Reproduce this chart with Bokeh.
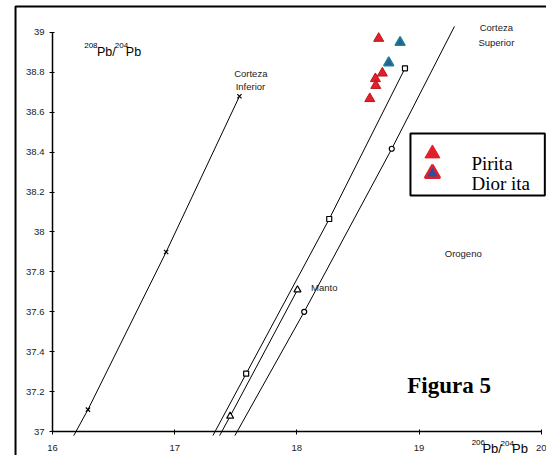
from bokeh.plotting import figure
from bokeh.models import FixedTicker, BoxAnnotation
from bokeh.core.properties import value
from bokeh.embed import file_html
from bokeh.resources import INLINE

# ---- data (206Pb/204Pb vs 208Pb/204Pb) ----
inf_line_x = [16.174, 16.29, 16.93, 17.53]
inf_line_y = [36.98, 37.11, 37.90, 38.68]
inf_pts_x = [16.29, 16.93, 17.53]
inf_pts_y = [37.11, 37.90, 38.68]

oro_line_x = [17.313, 17.585, 18.265, 18.885]
oro_line_y = [36.98, 37.29, 38.065, 38.82]
oro_pts_x = [17.585, 18.265, 18.885]
oro_pts_y = [37.29, 38.065, 38.82]

man_line_x = [17.368, 17.454, 18.005]
man_line_y = [36.98, 37.077, 37.71]
man_pts_x = [17.454, 18.005]
man_pts_y = [37.077, 37.71]

sup_line_x = [17.493, 18.06, 18.777, 19.29]
sup_line_y = [36.98, 37.60, 38.417, 39.03]
sup_pts_x = [18.06, 18.777]
sup_pts_y = [37.60, 38.417]

pirita_x = [18.67, 18.70, 18.643, 18.646, 18.597]
pirita_y = [38.97, 38.796, 38.768, 38.734, 38.668]

diorita_x = [18.845, 18.752]
diorita_y = [38.95, 38.848]

x_ticks = [16, 17, 18, 19, 20]
y_ticks = [37, 37.2, 37.4, 37.6, 37.8, 38, 38.2, 38.4, 38.6, 38.8, 39]

curve_names = ["Corteza", "Inferior", "Corteza", "Superior", "Orogeno", "Manto"]
legend_names = ["Pirita", "Dior ita"]

SANS = "Liberation Sans"
SERIF = "Liberation Serif"
RED = "#E3202A"
BLUE = "#2D5B9B"

p = figure(width=546, height=455, output_backend="svg", toolbar_location=None,
           x_range=(15.574, 20.0436), y_range=(36.88, 39.16),
           min_border=0, min_border_left=0, min_border_bottom=0,
           min_border_top=0, min_border_right=0)
p.outline_line_color = None
p.grid.visible = False

p.xaxis.fixed_location = y_ticks[0]
p.yaxis.fixed_location = x_ticks[0]
p.xaxis.bounds = (x_ticks[0], x_ticks[-1])
p.yaxis.bounds = (y_ticks[0], y_ticks[-1])
for ax in (p.xaxis[0], p.yaxis[0]):
    ax.axis_line_color = "black"
    ax.axis_line_width = 1.5
    ax.major_tick_in = 2
    ax.major_tick_out = 3
    ax.major_tick_line_color = "black"
    ax.minor_tick_line_color = None
    ax.major_label_text_font = SANS
    ax.major_label_text_font_size = "9.5px"
    ax.major_label_text_color = "#222222"
p.xaxis.ticker = FixedTicker(ticks=x_ticks)
p.yaxis.ticker = FixedTicker(ticks=y_ticks)
p.xaxis.major_label_standoff = 10
p.yaxis.major_label_standoff = 5

# outer frame of the figure (open to the right and bottom)
p.add_layout(BoxAnnotation(left=15.697, top=39.13, right=25, bottom=30,
                           fill_color=None, line_color="black", line_alpha=1,
                           line_width=2, level="underlay"))

for lx, ly in ((inf_line_x, inf_line_y), (oro_line_x, oro_line_y),
               (man_line_x, man_line_y), (sup_line_x, sup_line_y)):
    p.line(lx, ly, line_color="black", line_width=1)

p.scatter(inf_pts_x, inf_pts_y, marker="x", size=6, line_color="black", line_width=1.2)
p.scatter(oro_pts_x, oro_pts_y, marker="square", size=5, fill_color="white",
          line_color="black", line_width=1.2)
p.scatter(man_pts_x, man_pts_y, marker="triangle", size=7, fill_color="white",
          line_color="black", line_width=1.2)
p.scatter(sup_pts_x, sup_pts_y, marker="circle", size=5, fill_color="white",
          line_color="black", line_width=1.2)

p.scatter(pirita_x, pirita_y, marker="triangle", size=10,
          fill_color=RED, line_color="#B5141C", line_width=1)
p.scatter(diorita_x, diorita_y, marker="triangle", size=10,
          fill_color=BLUE, line_color="#17868C", line_width=1.5)

# legend (box, swatches, names)
p.add_layout(BoxAnnotation(left=18.930, right=20.030, top=38.494, bottom=38.183,
                           fill_color="white", fill_alpha=1, line_color="black",
                           line_alpha=1, line_width=2, level="underlay"))
p.scatter([19.110], [38.393], marker="triangle", size=15, fill_color=RED,
          line_color=RED, line_width=1)
p.scatter([19.110], [38.293], marker="triangle", size=15, fill_color="#2D4F9E",
          line_color=RED, line_width=2.5)
p.text([19.429, 19.429], [38.343, 38.243], text=legend_names,
       text_font=value(SERIF), text_font_size="19px", text_align="left",
       text_baseline="middle", text_color="#000000")

# curve labels
p.text([17.623, 17.620, 19.633, 19.633, 19.362, 18.224],
       [38.796, 38.729, 39.027, 38.951, 37.894, 37.723], text=curve_names,
       text_font=value(SANS), text_font_size="9.5px", text_align="center",
       text_baseline="middle", text_color="#222222")

p.text([19.246], [37.231], text=["Figura 5"], text_font=value(SERIF),
       text_font_size="23px", text_font_style="bold", text_align="center",
       text_baseline="middle", text_color="#000000")

# axis titles with superscripts
def title(xs, ys, parts, sizes):
    for x, y, s, fs in zip(xs, ys, parts, sizes):
        p.text([x], [y], text=[s], text_font=value(SANS), text_font_size=fs,
               text_align="left", text_baseline="middle", text_color="#000000")

title([16.259, 16.363, 16.510, 16.600], [38.935, 38.901, 38.935, 38.901],
      ["208", "Pb/", "204", "Pb"], ["8px", "12.5px", "8px", "12.5px"])
title([19.431, 19.519, 19.668, 19.762], [36.945, 36.916, 36.941, 36.916],
      ["206", "Pb/", "204", "Pb"], ["8px", "13px", "8px", "13px"])

open("out.html", "w").write(file_html(p, INLINE))
